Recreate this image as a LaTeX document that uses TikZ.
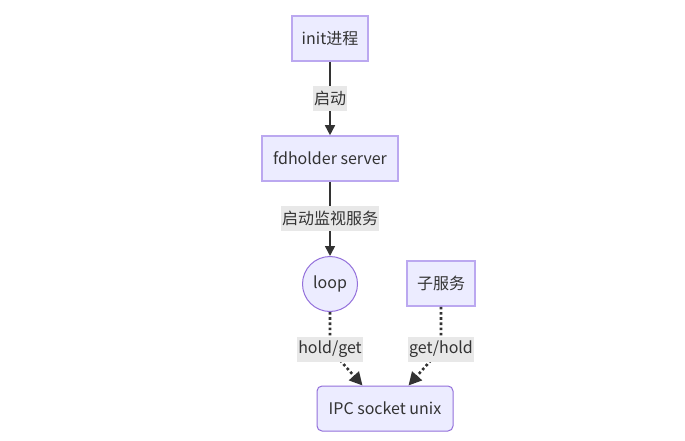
\documentclass[tikz,border=0pt]{standalone}
\usepackage{fontspec}
\setmainfont{Noto Sans CJK SC}
\usetikzlibrary{arrows.meta,calc}
\definecolor{nodefill}{HTML}{ECECFF}
\definecolor{nodeline}{HTML}{9370DB}
\definecolor{boxline}{HTML}{BBA8F0}
\definecolor{edgecol}{HTML}{333333}
\definecolor{labelbg}{HTML}{E8E8E8}
\begin{document}
\begin{tikzpicture}[x=1pt,y=-1pt,
  font=\fontsize{16}{19}\selectfont, text=edgecol,
  procbox/.style={draw=boxline, line width=1.6pt, fill=nodefill, minimum height=45pt, inner sep=0pt},
  roundbox/.style={draw=nodeline, line width=1pt, fill=nodefill, minimum height=45pt, inner sep=0pt, rounded corners=5pt},
  circ/.style={circle, draw=nodeline, line width=1pt, fill=nodefill, inner sep=0pt},
  elabel/.style={fill=labelbg, inner xsep=1pt, inner ysep=0pt, minimum height=25pt, text=edgecol},
  solidedge/.style={draw=edgecol, line width=1.6pt, -{Triangle[length=10pt,width=10pt]}},
  dotedge/.style={draw=edgecol, line width=2.6pt, dash pattern=on 2.6pt off 2.6pt, -{Triangle[length=13pt,width=13pt]}}]
\useasboundingbox[fill=white] (0,0) rectangle (685,441);

\node[procbox, minimum width=76pt] (init) at (330,38.5) {init进程};
\node[procbox, minimum width=136pt] (fd) at (330,158.5) {fdholder server};
\node[circ, minimum size=55pt] (loop) at (330,284) {loop};
\node[procbox, minimum width=68pt] (sub) at (441,283.5) {子服务};
\node[roundbox, minimum width=136pt] (ipc) at (385,408.5) {IPC socket unix};

\draw[solidedge] (init) -- node[elabel]{启动} (fd);
\draw[solidedge] (fd) -- node[elabel]{启动监视服务} (loop);

\coordinate (b1) at (330,349);
\coordinate (b2) at (441,349);
\draw[dotedge] (loop.south) -- (b1) -- ($(ipc.north west)+(46,0)$);
\draw[dotedge] (sub.south) -- (b2) -- ($(ipc.north east)+(-45,0)$);
\node[elabel] (l1) at (b1) {hold/get};
\node[elabel] (l2) at (b2) {get/hold};
\end{tikzpicture}
\end{document}
